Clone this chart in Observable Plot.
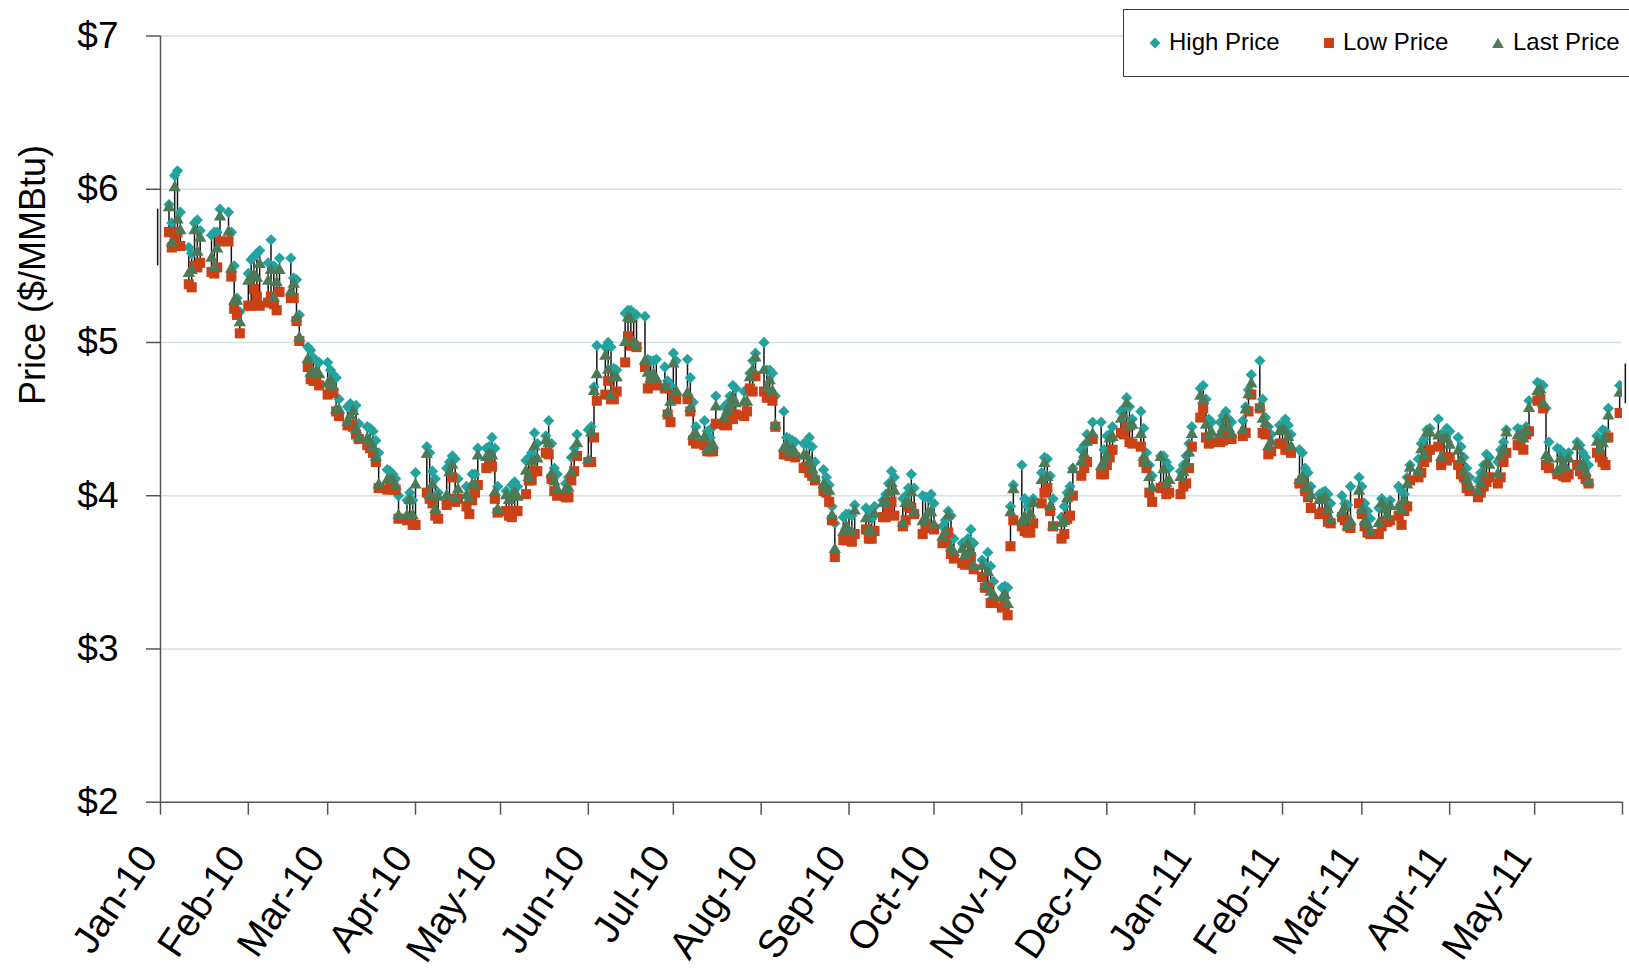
<!DOCTYPE html>
<html>
<head>
<meta charset="utf-8">
<script src="https://cdn.jsdelivr.net/npm/d3@7"></script>
<script src="https://cdn.jsdelivr.net/npm/@observablehq/plot@0.6"></script>
<style>
html, body { margin: 0; padding: 0; background: #fff; }
#wrap { position: relative; width: 1629px; height: 971px; overflow: hidden; font-family: "Liberation Sans", Arial, sans-serif; background: #fff; }
#chart { position: absolute; left: 0; top: 0; }
#ytitle { position: absolute; left: 33px; top: 275px; transform: translate(-50%, -50%) rotate(-90deg); font-size: 36px; white-space: nowrap; color: #000; }
#legend { position: absolute; left: 1123px; top: 9px; width: 540px; height: 68px; border: 1.5px solid #3a3a3a; background: #fff; box-sizing: border-box; }
.li { position: absolute; top: 0; height: 63px; line-height: 63px; font-size: 24px; color: #000; white-space: nowrap; }
.mk { position: absolute; top: 0; }
</style>
</head>
<body>
<div id="wrap">
  <div id="chart"></div>
  <div id="ytitle">Price ($/MMBtu)</div>
  <div id="legend"></div>
</div>
<script>
// ---- Tick labels ----
const tickDates = ["2010-01-01","2010-02-01","2010-03-01","2010-04-01","2010-05-01","2010-06-01","2010-07-01","2010-08-01","2010-09-01","2010-10-01","2010-11-01","2010-12-01","2011-01-01","2011-02-01","2011-03-01","2011-04-01","2011-05-01","2011-06-01"];
const monthLabels = ["Jan-10","Feb-10","Mar-10","Apr-10","May-10","Jun-10","Jul-10","Aug-10","Sep-10","Oct-10","Nov-10","Dec-10","Jan-11","Feb-11","Mar-11","Apr-11","May-11",""];
const yTicks = [2, 3, 4, 5, 6, 7];
const yLabels = ["$2", "$3", "$4", "$5", "$6", "$7"];
const seriesNames = ["High Price", "Low Price", "Last Price"];

// ---- Trading days ----
const dates = [
"2010-01-04","2010-01-05","2010-01-06","2010-01-07","2010-01-08","2010-01-11","2010-01-12","2010-01-13","2010-01-14","2010-01-15","2010-01-19","2010-01-20","2010-01-21","2010-01-22","2010-01-25","2010-01-26","2010-01-27","2010-01-28","2010-01-29",
"2010-02-01","2010-02-02","2010-02-03","2010-02-04","2010-02-05","2010-02-08","2010-02-09","2010-02-10","2010-02-11","2010-02-12","2010-02-16","2010-02-17","2010-02-18","2010-02-19","2010-02-22","2010-02-23","2010-02-24","2010-02-25","2010-02-26",
"2010-03-01","2010-03-02","2010-03-03","2010-03-04","2010-03-05","2010-03-08","2010-03-09","2010-03-10","2010-03-11","2010-03-12","2010-03-15","2010-03-16","2010-03-17","2010-03-18","2010-03-19","2010-03-22","2010-03-23","2010-03-24","2010-03-25","2010-03-26","2010-03-29","2010-03-30","2010-03-31",
"2010-04-01","2010-04-05","2010-04-06","2010-04-07","2010-04-08","2010-04-09","2010-04-12","2010-04-13","2010-04-14","2010-04-15","2010-04-16","2010-04-19","2010-04-20","2010-04-21","2010-04-22","2010-04-23","2010-04-26","2010-04-27","2010-04-28","2010-04-29","2010-04-30",
"2010-05-03","2010-05-04","2010-05-05","2010-05-06","2010-05-07","2010-05-10","2010-05-11","2010-05-12","2010-05-13","2010-05-14","2010-05-17","2010-05-18","2010-05-19","2010-05-20","2010-05-21","2010-05-24","2010-05-25","2010-05-26","2010-05-27","2010-05-28",
"2010-06-01","2010-06-02","2010-06-03","2010-06-04","2010-06-07","2010-06-08","2010-06-09","2010-06-10","2010-06-11","2010-06-14","2010-06-15","2010-06-16","2010-06-17","2010-06-18","2010-06-21","2010-06-22","2010-06-23","2010-06-24","2010-06-25","2010-06-28","2010-06-29","2010-06-30",
"2010-07-01","2010-07-02","2010-07-06","2010-07-07","2010-07-08","2010-07-09","2010-07-12","2010-07-13","2010-07-14","2010-07-15","2010-07-16","2010-07-19","2010-07-20","2010-07-21","2010-07-22","2010-07-23","2010-07-26","2010-07-27","2010-07-28","2010-07-29","2010-07-30",
"2010-08-02","2010-08-03","2010-08-04","2010-08-05","2010-08-06","2010-08-09","2010-08-10","2010-08-11","2010-08-12","2010-08-13","2010-08-16","2010-08-17","2010-08-18","2010-08-19","2010-08-20","2010-08-23","2010-08-24","2010-08-25","2010-08-26","2010-08-27","2010-08-30","2010-08-31",
"2010-09-01","2010-09-02","2010-09-03","2010-09-07","2010-09-08","2010-09-09","2010-09-10","2010-09-13","2010-09-14","2010-09-15","2010-09-16","2010-09-17","2010-09-20","2010-09-21","2010-09-22","2010-09-23","2010-09-24","2010-09-27","2010-09-28","2010-09-29","2010-09-30",
"2010-10-01","2010-10-04","2010-10-05","2010-10-06","2010-10-07","2010-10-08","2010-10-11","2010-10-12","2010-10-13","2010-10-14","2010-10-15","2010-10-18","2010-10-19","2010-10-20","2010-10-21","2010-10-22","2010-10-25","2010-10-26","2010-10-27","2010-10-28","2010-10-29",
"2010-11-01","2010-11-02","2010-11-03","2010-11-04","2010-11-05","2010-11-08","2010-11-09","2010-11-10","2010-11-11","2010-11-12","2010-11-15","2010-11-16","2010-11-17","2010-11-18","2010-11-19","2010-11-22","2010-11-23","2010-11-24","2010-11-26","2010-11-29","2010-11-30",
"2010-12-01","2010-12-02","2010-12-03","2010-12-06","2010-12-07","2010-12-08","2010-12-09","2010-12-10","2010-12-13","2010-12-14","2010-12-15","2010-12-16","2010-12-17","2010-12-20","2010-12-21","2010-12-22","2010-12-23","2010-12-27","2010-12-28","2010-12-29","2010-12-30","2010-12-31",
"2011-01-03","2011-01-04","2011-01-05","2011-01-06","2011-01-07","2011-01-10","2011-01-11","2011-01-12","2011-01-13","2011-01-14","2011-01-18","2011-01-19","2011-01-20","2011-01-21","2011-01-24","2011-01-25","2011-01-26","2011-01-27","2011-01-28","2011-01-31",
"2011-02-01","2011-02-02","2011-02-03","2011-02-04","2011-02-07","2011-02-08","2011-02-09","2011-02-10","2011-02-11","2011-02-14","2011-02-15","2011-02-16","2011-02-17","2011-02-18","2011-02-22","2011-02-23","2011-02-24","2011-02-25","2011-02-28",
"2011-03-01","2011-03-02","2011-03-03","2011-03-04","2011-03-07","2011-03-08","2011-03-09","2011-03-10","2011-03-11","2011-03-14","2011-03-15","2011-03-16","2011-03-17","2011-03-18","2011-03-21","2011-03-22","2011-03-23","2011-03-24","2011-03-25","2011-03-28","2011-03-29","2011-03-30","2011-03-31",
"2011-04-01","2011-04-04","2011-04-05","2011-04-06","2011-04-07","2011-04-08","2011-04-11","2011-04-12","2011-04-13","2011-04-14","2011-04-15","2011-04-18","2011-04-19","2011-04-20","2011-04-21","2011-04-25","2011-04-26","2011-04-27","2011-04-28","2011-04-29",
"2011-05-02","2011-05-03","2011-05-04","2011-05-05","2011-05-06","2011-05-09","2011-05-10","2011-05-11","2011-05-12","2011-05-13","2011-05-16","2011-05-17","2011-05-18","2011-05-19","2011-05-20","2011-05-23","2011-05-24","2011-05-25","2011-05-26","2011-05-27","2011-05-31"
];

// ---- High price ($/MMBtu) ----
const high = [
5.90,5.78,6.09,6.12,5.85,5.62,5.58,5.78,5.80,5.73,5.70,5.72,5.72,5.87,5.85,5.72,5.50,5.29,5.20,
5.45,5.54,5.56,5.58,5.60,5.52,5.67,5.50,5.48,5.55,5.55,5.42,5.41,5.18,4.97,4.95,4.90,4.88,4.87,
4.87,4.82,4.79,4.77,4.63,4.58,4.60,4.56,4.59,4.47,4.45,4.44,4.42,4.36,4.28,4.17,4.16,4.14,4.11,4.00,3.97,4.02,3.97,
4.15,4.32,4.28,4.16,4.11,4.02,4.18,4.22,4.26,4.24,4.11,4.06,4.04,4.14,4.14,4.31,4.31,4.32,4.38,4.31,4.06,
4.03,4.00,4.07,4.09,4.06,4.23,4.25,4.28,4.41,4.34,4.39,4.49,4.34,4.18,4.14,4.08,4.12,4.25,4.31,4.40,
4.43,4.45,4.71,4.98,4.97,5.00,4.97,4.83,4.82,5.19,5.21,5.21,5.19,5.18,5.17,4.89,4.88,4.88,4.89,4.84,4.75,4.72,
4.93,4.88,4.89,4.77,4.61,4.45,4.49,4.42,4.38,4.45,4.65,4.58,4.60,4.65,4.72,4.70,4.68,4.68,4.80,4.88,4.93,
5.00,4.82,4.82,4.80,4.65,4.55,4.38,4.37,4.36,4.35,4.34,4.34,4.38,4.32,4.22,4.17,4.12,4.07,3.93,3.82,3.86,3.88,
3.88,3.87,3.94,3.92,3.90,3.85,3.93,3.97,4.01,4.08,4.16,4.12,3.98,4.00,4.05,4.14,4.05,4.00,3.99,3.99,4.01,
3.95,3.80,3.84,3.90,3.87,3.72,3.69,3.70,3.72,3.78,3.69,3.58,3.55,3.63,3.54,3.44,3.40,3.41,3.40,3.93,4.07,
4.20,3.98,3.93,3.96,3.98,4.15,4.25,4.24,4.13,3.98,3.86,3.93,4.02,4.06,4.18,4.30,4.33,4.40,4.48,4.48,4.30,
4.39,4.40,4.45,4.55,4.57,4.64,4.58,4.50,4.55,4.44,4.28,4.20,4.13,4.26,4.26,4.22,4.18,4.16,4.20,4.26,4.34,4.45,
4.70,4.72,4.63,4.50,4.48,4.48,4.52,4.55,4.50,4.48,4.49,4.58,4.69,4.79,4.88,4.63,4.51,4.45,4.40,4.46,
4.46,4.50,4.46,4.40,4.30,4.28,4.18,4.15,4.06,4.01,4.02,4.03,4.01,3.95,4.00,3.95,3.94,4.06,4.12,
4.06,3.95,3.90,3.85,3.92,3.98,3.96,3.95,3.97,4.06,4.03,4.01,4.12,4.20,4.24,4.34,4.37,4.43,4.44,4.50,4.40,4.40,4.44,
4.42,4.38,4.32,4.25,4.18,4.12,4.10,4.15,4.20,4.27,4.25,4.22,4.30,4.35,4.43,4.44,4.43,4.42,4.45,4.62,
4.74,4.73,4.72,4.57,4.35,4.31,4.30,4.28,4.26,4.28,4.35,4.33,4.28,4.25,4.20,4.39,4.37,4.43,4.42,4.57,4.72
];

// ---- Low price ($/MMBtu) ----
const low = [
5.72,5.62,5.67,5.72,5.63,5.38,5.36,5.50,5.49,5.52,5.46,5.45,5.49,5.66,5.66,5.43,5.22,5.18,5.06,
5.24,5.24,5.35,5.30,5.24,5.26,5.30,5.25,5.21,5.33,5.29,5.29,5.14,5.01,4.84,4.76,4.75,4.75,4.72,
4.66,4.68,4.67,4.55,4.52,4.46,4.46,4.45,4.40,4.37,4.33,4.31,4.28,4.22,4.05,4.04,4.05,4.04,4.04,3.85,3.84,3.85,3.81,
3.81,4.02,3.98,3.95,3.87,3.85,3.94,3.98,4.12,3.96,3.98,3.93,3.88,3.97,4.02,4.07,4.18,4.20,4.19,3.98,3.89,
3.90,3.87,3.86,3.90,3.90,4.01,4.10,4.10,4.16,4.16,4.28,4.27,4.11,4.03,4.00,3.99,3.99,4.10,4.16,4.26,
4.22,4.22,4.38,4.62,4.66,4.75,4.63,4.63,4.68,4.87,5.04,4.98,4.98,4.97,4.84,4.70,4.74,4.73,4.72,4.70,4.53,4.48,
4.66,4.63,4.63,4.55,4.36,4.34,4.33,4.29,4.29,4.29,4.47,4.46,4.46,4.53,4.50,4.53,4.52,4.55,4.70,4.68,4.78,
4.68,4.64,4.64,4.62,4.45,4.27,4.27,4.26,4.26,4.25,4.18,4.19,4.15,4.13,4.10,4.03,4.02,3.96,3.84,3.60,3.71,3.71,
3.71,3.70,3.75,3.78,3.72,3.72,3.77,3.86,3.86,3.90,3.96,3.87,3.80,3.84,3.93,3.92,3.88,3.75,3.80,3.79,3.79,
3.78,3.69,3.70,3.76,3.62,3.59,3.56,3.55,3.58,3.60,3.52,3.47,3.40,3.40,3.30,3.30,3.27,3.28,3.22,3.67,3.84,
3.80,3.77,3.76,3.76,3.82,3.95,4.02,4.05,3.90,3.80,3.72,3.75,3.85,3.87,4.00,4.13,4.18,4.22,4.37,4.14,4.14,
4.20,4.25,4.30,4.41,4.40,4.45,4.35,4.34,4.32,4.22,4.18,4.02,3.96,4.05,4.06,4.01,4.02,4.01,4.06,4.08,4.18,4.32,
4.51,4.57,4.38,4.34,4.35,4.35,4.36,4.40,4.38,4.37,4.39,4.41,4.55,4.66,4.57,4.41,4.40,4.27,4.29,4.34,
4.34,4.30,4.30,4.28,4.08,4.10,4.03,3.99,3.92,3.88,3.89,3.89,3.83,3.82,3.86,3.84,3.80,3.79,3.95,
3.88,3.80,3.76,3.75,3.75,3.80,3.83,3.83,3.84,3.87,3.81,3.90,3.93,4.10,4.12,4.15,4.22,4.25,4.30,4.32,4.20,4.25,4.23,
4.25,4.20,4.14,4.12,4.05,4.03,3.99,4.02,4.06,4.09,4.12,4.08,4.12,4.22,4.28,4.33,4.33,4.30,4.40,4.42,
4.62,4.63,4.57,4.20,4.18,4.14,4.15,4.13,4.12,4.14,4.20,4.16,4.14,4.11,4.08,4.28,4.25,4.22,4.20,4.38,4.54
];

// ---- Last price ($/MMBtu) ----
const last = [
5.88,5.65,6.01,5.80,5.73,5.45,5.47,5.73,5.59,5.68,5.55,5.49,5.61,5.82,5.72,5.48,5.27,5.27,5.13,
5.40,5.43,5.44,5.42,5.51,5.40,5.47,5.29,5.39,5.47,5.33,5.38,5.16,5.03,4.89,4.80,4.80,4.81,4.79,
4.73,4.75,4.71,4.56,4.56,4.48,4.52,4.55,4.43,4.38,4.37,4.35,4.31,4.25,4.07,4.10,4.10,4.10,4.06,3.87,3.87,3.97,3.87,
4.07,4.27,4.00,4.07,3.91,3.99,4.00,4.15,4.20,3.98,4.04,4.00,3.98,4.07,4.07,4.26,4.25,4.27,4.26,4.02,3.91,
4.00,3.97,3.99,4.02,3.99,4.16,4.12,4.22,4.32,4.24,4.36,4.34,4.14,4.09,4.04,4.04,4.05,4.15,4.27,4.34,
4.23,4.41,4.68,4.79,4.91,4.82,4.65,4.77,4.77,5.00,5.16,5.15,5.00,4.98,4.88,4.80,4.76,4.79,4.76,4.71,4.54,4.61,
4.86,4.68,4.67,4.57,4.39,4.40,4.38,4.30,4.30,4.33,4.58,4.51,4.55,4.59,4.64,4.60,4.61,4.61,4.77,4.82,4.90,
4.82,4.70,4.75,4.68,4.46,4.31,4.33,4.28,4.30,4.28,4.26,4.26,4.22,4.17,4.12,4.07,4.05,4.03,3.87,3.65,3.76,3.80,
3.76,3.76,3.90,3.85,3.77,3.76,3.88,3.95,3.96,4.02,4.08,4.03,3.82,3.95,3.95,4.02,3.89,3.83,3.85,3.89,3.89,
3.81,3.73,3.76,3.87,3.66,3.63,3.65,3.61,3.68,3.63,3.54,3.54,3.41,3.50,3.37,3.35,3.33,3.35,3.29,3.89,4.04,
3.83,3.86,3.84,3.88,3.95,4.10,4.21,4.12,3.93,3.80,3.82,3.83,3.98,4.02,4.17,4.22,4.27,4.35,4.40,4.19,4.22,
4.26,4.37,4.38,4.50,4.52,4.60,4.45,4.46,4.40,4.25,4.21,4.12,4.05,4.25,4.17,4.08,4.10,4.12,4.15,4.21,4.28,4.40,
4.65,4.62,4.46,4.39,4.41,4.40,4.44,4.50,4.44,4.40,4.43,4.56,4.66,4.73,4.58,4.50,4.47,4.32,4.35,4.42,
4.43,4.42,4.38,4.32,4.10,4.12,4.05,4.05,4.00,3.97,3.97,3.99,3.91,3.84,3.89,3.92,3.80,3.83,4.03,
3.91,3.83,3.81,3.76,3.82,3.95,3.91,3.87,3.93,3.93,3.91,3.97,4.07,4.18,4.16,4.30,4.26,4.41,4.41,4.39,4.25,4.37,4.37,
4.33,4.29,4.23,4.15,4.10,4.06,4.03,4.08,4.14,4.21,4.20,4.14,4.26,4.30,4.41,4.39,4.39,4.37,4.42,4.57,
4.68,4.69,4.60,4.26,4.24,4.16,4.24,4.20,4.18,4.24,4.32,4.19,4.20,4.15,4.09,4.35,4.30,4.34,4.37,4.52,4.67
];

// ---- Sessions just outside the axis range (only their high-low bars show) ----
const edgeDates = ["2009-12-31", "2011-06-02"];
const edgeHigh = [5.87, 4.86];
const edgeLow = [5.50, 4.60];

const colors = { high: "#22a39f", low: "#cb4116", last: "#4c7a57" };

const parse = d3.utcParse("%Y-%m-%d");
const rows = dates.map((d, i) => ({ date: parse(d), high: high[i], low: low[i], last: last[i] }));
const edgeRows = edgeDates.map((d, i) => ({ date: parse(d), high: edgeHigh[i], low: edgeLow[i] }));
const tickDateObjs = tickDates.map(parse);
const xLabelOf = new Map(tickDateObjs.map((d, i) => [+d, monthLabels[i]]));
const yLabelOf = new Map(yTicks.map((v, i) => [v, yLabels[i]]));

const chart = Plot.plot({
  width: 1629,
  height: 971,
  marginLeft: 160,
  marginRight: 7,
  marginTop: 35.5,
  marginBottom: 169.3,
  style: { fontFamily: "'Liberation Sans', Arial, sans-serif", background: "transparent", color: "#000", overflow: "visible" },
  x: { type: "utc", domain: [tickDateObjs[0], tickDateObjs[tickDateObjs.length - 1]], label: null },
  y: { domain: [2, 7], label: null },
  marks: [
    Plot.gridY(yTicks.slice(1), { stroke: "#d3e2e6", strokeOpacity: 1, strokeWidth: 1.5 }),
    Plot.ruleX(rows.concat(edgeRows), { x: "date", y1: "low", y2: "high", stroke: "#151515", strokeWidth: 1.5 }),
    Plot.dot(rows, { x: "date", y: "high", symbol: "diamond2", r: 5.1, fill: colors.high, stroke: "none", clip: true }),
    Plot.dot(rows, { x: "date", y: "low", symbol: "square", r: 5.7, fill: colors.low, stroke: "none", clip: true }),
    Plot.dot(rows, { x: "date", y: "last", symbol: "triangle", r: 4.6, fill: colors.last, stroke: "none", clip: true }),
    Plot.ruleY([2], { stroke: "#555", strokeWidth: 1.5 }),
    Plot.ruleX([tickDateObjs[0]], { stroke: "#555", strokeWidth: 1.5 }),
    Plot.axisY(yTicks, { tickSize: 14, tickPadding: 28, fontSize: 37, stroke: "#555", strokeWidth: 1.5, fill: "#000", tickFormat: v => yLabelOf.get(v), label: null }),
    // tick marks only
    Plot.axisX(tickDateObjs, { tickSize: 13, stroke: "#555", strokeWidth: 1.5, tickFormat: () => "", label: null }),
    // rotated month labels only
    Plot.axisX(tickDateObjs, { tickSize: 0, tickPadding: 48, tickRotate: -56, textAnchor: "end", lineAnchor: "middle", dx: -12, fontSize: 39, fill: "#000", tickFormat: d => xLabelOf.get(+d), label: null })
  ]
});
document.getElementById("chart").appendChild(chart);

// ---- Legend ----
const legend = document.getElementById("legend");
const legendItems = [
  { name: seriesNames[0], color: colors.high, shape: "diamond", mx: 31, tx: 45 },
  { name: seriesNames[1], color: colors.low, shape: "square", mx: 205, tx: 219 },
  { name: seriesNames[2], color: colors.last, shape: "triangle", mx: 374, tx: 389 }
];
const shapes = {
  diamond: c => `<path d="M7 1.5 L12.5 7 L7 12.5 L1.5 7 Z" fill="${c}"/>`,
  square: c => `<rect x="2" y="2" width="10" height="10" fill="${c}"/>`,
  triangle: c => `<path d="M7 1.8 L12.8 12 L1.2 12 Z" fill="${c}"/>`
};
for (const it of legendItems) {
  const m = document.createElement("div");
  m.className = "mk";
  m.style.left = (it.mx - 7) + "px";
  m.style.top = (33 - 7) + "px";
  m.innerHTML = `<svg width="14" height="14" viewBox="0 0 14 14">${shapes[it.shape](it.color)}</svg>`;
  legend.appendChild(m);
  const t = document.createElement("div");
  t.className = "li";
  t.style.left = it.tx + "px";
  t.textContent = it.name;
  legend.appendChild(t);
}
</script>
</body>
</html>
